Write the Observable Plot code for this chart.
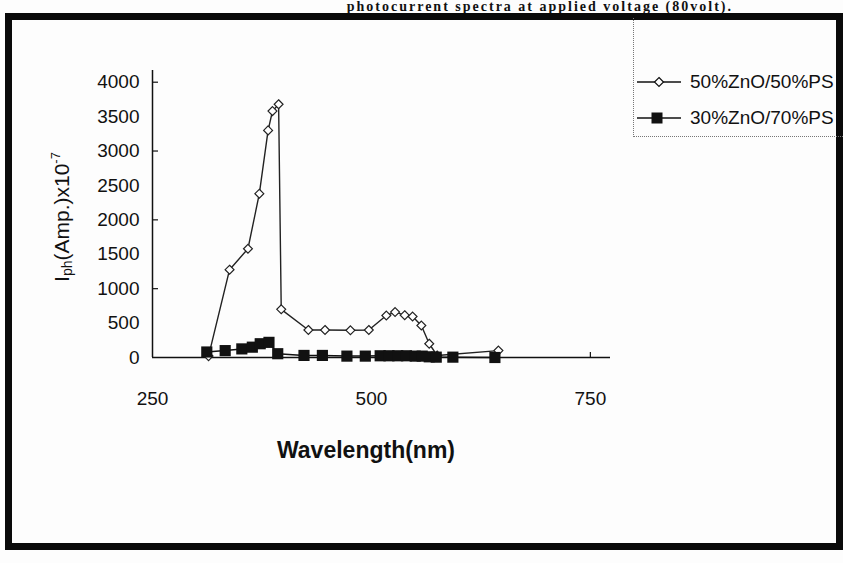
<!DOCTYPE html>
<html>
<head>
<meta charset="utf-8">
<script src="https://cdn.jsdelivr.net/npm/d3@7"></script>
<script src="https://cdn.jsdelivr.net/npm/@observablehq/plot@0.6"></script>
<style>
  html, body { margin: 0; padding: 0; background: #fff; }
  #wrap { position: relative; width: 843px; height: 563px; overflow: hidden; background: #fdfdfd; font-family: "Liberation Sans", Arial, sans-serif; color: #111; }
  #chart { position: absolute; left: 0; top: 0; }
  .frame { position: absolute; left: 5px; top: 13px; width: 838px; height: 537px; border: 7px solid #0a0a0a; box-sizing: border-box; }
  .caption { position: absolute; right: 110px; top: 0px; font-family: "Liberation Serif", "Times New Roman", serif; font-weight: bold; font-size: 14px; line-height: 13px; letter-spacing: 2px; white-space: nowrap; }
  .legbox { position: absolute; left: 633px; top: 18px; width: 210px; height: 119px; border-left: 1px dotted #777; border-bottom: 1px dotted #777; box-sizing: border-box; }
  .legitem { position: absolute; left: 637px; height: 22px; display: flex; align-items: center; font-size: 19px; white-space: nowrap; }
  .legitem svg { margin-right: 8px; }
  .ylab { position: absolute; left: 61px; top: 217px; transform: translate(-50%, -50%) rotate(-90deg); font-size: 21px; white-space: nowrap; }
  .ylab sub { font-size: 14px; vertical-align: -3px; }
  .ylab sup { font-size: 13px; vertical-align: 9px; }
  .xlab { position: absolute; left: 366px; top: 450px; transform: translate(-50%, -50%); font-size: 23px; font-weight: bold; white-space: nowrap; }
</style>
</head>
<body>
<div id="wrap">
  <div id="chart"></div>
  <div class="caption">photocurrent spectra at applied voltage (80volt).</div>
  <div class="frame"></div>
  <div class="legbox"></div>
  <div class="legitem" style="top:71px">
    <svg width="45" height="14"><line x1="0" x2="44" y1="7" y2="7" stroke="#111" stroke-width="1.5"/><path d="M22,2.5 L26.5,7 L22,11.5 L17.5,7 Z" fill="#fff" stroke="#111" stroke-width="1.2"/></svg>
    <span>50%ZnO/50%PS</span>
  </div>
  <div class="legitem" style="top:107px">
    <svg width="45" height="14"><line x1="0" x2="44" y1="7" y2="7" stroke="#111" stroke-width="1.5"/><rect x="14.5" y="1.5" width="11" height="11" fill="#111"/></svg>
    <span>30%ZnO/70%PS</span>
  </div>
  <div class="ylab">I<sub>ph</sub>(Amp.)x10<sup>-7</sup></div>
  <div class="xlab">Wavelength(nm)</div>
</div>
<script>
// Series 1: 50%ZnO/50%PS (open diamonds)
const wavelength50 = [314, 338, 359, 372, 382, 387, 394, 397, 428, 447, 476, 497, 517, 527, 538, 547, 557, 566, 575, 645];
const iph50        = [20, 1276, 1580, 2380, 3300, 3580, 3680, 700, 400, 400, 395, 400, 610, 660, 615, 595, 465, 200, 30, 100];

// Series 2: 30%ZnO/70%PS (filled squares)
const wavelength30 = [312, 333, 352, 364, 373, 383, 393, 423, 444, 472, 493, 510, 520, 530, 540, 550, 558, 566, 574, 593, 641];
const iph30        = [80, 100, 125, 150, 200, 220, 55, 30, 30, 20, 20, 25, 25, 25, 25, 20, 20, 10, 5, 5, 0];

const xTicks = [250, 500, 750];
const yTicks = [0, 500, 1000, 1500, 2000, 2500, 3000, 3500, 4000];
const yMajorMarks = [1000, 2000, 3000, 4000];
const xMajorMarks = [750];

const s50 = wavelength50.map((w, i) => ({w, v: iph50[i]}));
const s30 = wavelength30.map((w, i) => ({w, v: iph30[i]}));

const plot = Plot.plot({
  width: 843,
  height: 563,
  marginLeft: 152,
  marginRight: 233,
  marginTop: 70,
  marginBottom: 206,
  x: {domain: [250, 773]},
  y: {domain: [0, 4170]},
  style: {fontFamily: "'Liberation Sans', Arial, sans-serif", fontSize: "19px", color: "#111", background: "transparent", overflow: "visible"},
  marks: [
    Plot.axisX({ticks: xTicks, tickSize: 0, tickPadding: 34, label: null, fontSize: 19, tickFormat: d3.format("d")}),
    Plot.axisX({ticks: xMajorMarks, tickSize: -5, tickFormat: () => "", label: null, strokeWidth: 1.2}),
    Plot.axisY({ticks: yTicks, tickSize: 0, tickPadding: 13, label: null, fontSize: 19, tickFormat: d3.format("d")}),
    Plot.axisY({ticks: yMajorMarks, tickSize: -6, tickFormat: () => "", label: null, strokeWidth: 1.2}),
    Plot.ruleY([0], {stroke: "#111", strokeWidth: 1.5}),
    Plot.ruleX([250], {stroke: "#111", strokeWidth: 1.5}),
    Plot.line(s30, {x: "w", y: "v", stroke: "#111", strokeWidth: 1.5}),
    Plot.line(s50, {x: "w", y: "v", stroke: "#222", strokeWidth: 1.4}),
    Plot.dot(s50, {x: "w", y: "v", symbol: "diamond2", r: 4, fill: "#fff", stroke: "#222", strokeWidth: 1.2}),
    Plot.dot(s30, {x: "w", y: "v", symbol: "square", r: 6.3, fill: "#111", stroke: "none"})
  ]
});
document.getElementById("chart").appendChild(plot);
</script>
</body>
</html>
